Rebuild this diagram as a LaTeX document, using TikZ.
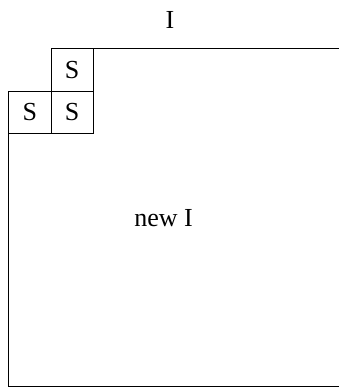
\documentclass[tikz,border=0pt]{standalone}
\usepackage{fontspec}
\setmainfont{Liberation Serif}
\begin{document}
\begin{tikzpicture}[x=1pt,y=1pt,
  cell/.style={draw, line width=0.8pt, minimum width=42.3pt, minimum height=42.2pt, inner sep=0pt, anchor=north west, font=\fontsize{26}{30}\selectfont},
  lbl/.style={font=\fontsize{26}{30}\selectfont, inner sep=0pt},
  edge/.style={line width=0.8pt}]
\useasboundingbox (0,0) rectangle (339,-391);
\node[cell] (top) at (50.5,-48.3) {S};
\node[cell] (left) at (8.2,-90.6) {S};
\node[cell] (mid) at (50.5,-90.6) {S};
\coordinate (tr) at (340,-48.3);
\coordinate (bl) at (8.2,-386);
\coordinate (br) at (340,-386);
\draw[edge] (top.north east) -- (tr);
\draw[edge] (left.south west) -- (bl) -- (br);
\node[lbl] (I) at (170,-20) {I};
\node[lbl] (newI) at (163.5,-218) {new I};
\end{tikzpicture}
\end{document}
